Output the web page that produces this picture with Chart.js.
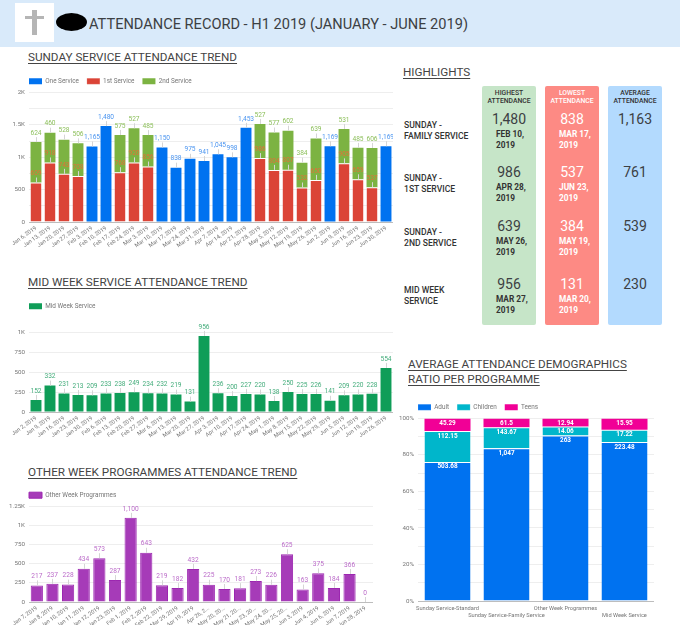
<!DOCTYPE html>
<html>
<head>
<meta charset="utf-8">
<script src="https://cdn.jsdelivr.net/npm/chart.js@4"></script>
<style>
html, body { margin: 0; padding: 0; background: #fff; overflow: hidden; }
body { width: 680px; height: 625px; position: relative; font-family: Roboto, sans-serif; color: #424242; }
canvas { position: absolute; }
.band { position: absolute; left: 0; top: 0; width: 680px; height: 47px; background: #d9eafa; }
.logo { position: absolute; left: 15px; top: 3px; width: 39px; height: 39px; background: #fff; }
.logo i { position: absolute; background: #b5b5b5; }
.blot { position: absolute; left: 56px; top: 13px; width: 31px; height: 18px; border-radius: 50%; background: #000; }
.head { position: absolute; left: 89px; top: 14px; font-size: 14.6px; line-height: 20px; white-space: nowrap; color: #3c4043; }
.ttl { position: absolute; font-size: 11.7px; line-height: 15px; text-decoration: underline; text-underline-offset: 2px; white-space: nowrap; color: #444; }
.col { position: absolute; top: 86px; width: 54px; height: 239px; border-radius: 2px; }
.t { position: absolute; white-space: nowrap; }
.colhead { font-size: 6.8px; font-weight: 500; line-height: 8px; text-align: center; width: 54px; }
.big { font-size: 14px; text-align: center; width: 54px; line-height: 18px; }
.when { font-size: 8.3px; font-weight: 700; line-height: 11px; }
.rowname { left: 404px; font-size: 8.6px; font-weight: 500; line-height: 11px; color: #333; }
</style>
</head>
<body>
<div class="band"></div>
<div class="logo"><i style="left:17px;top:7px;width:5px;height:25px"></i><i style="left:10px;top:13px;width:19px;height:3px"></i></div>
<div class="blot"></div>
<div class="head">ATTENDANCE RECORD - H1 2019 (JANUARY - JUNE 2019)</div>

<div class="ttl" style="left:28px;top:50px">SUNDAY SERVICE ATTENDANCE TREND</div>
<div class="ttl" style="left:28px;top:275px">MID WEEK SERVICE ATTENDANCE TREND</div>
<div class="ttl" style="left:28px;top:465px">OTHER WEEK PROGRAMMES ATTENDANCE TREND</div>
<div class="ttl" style="left:403px;top:65px">HIGHLIGHTS</div>
<div class="ttl" style="left:408px;top:357px">AVERAGE ATTENDANCE DEMOGRAPHICS</div>
<div class="ttl" style="left:408px;top:372px">RATIO PER PROGRAMME</div>

<div id="highlights"></div>

<canvas id="sundayChart" style="left:0;top:68px" width="393" height="202"></canvas>
<canvas id="midChart" style="left:0;top:293px" width="393" height="167"></canvas>
<canvas id="otherChart" style="left:0;top:482px" width="373" height="143"></canvas>
<canvas id="demoChart" style="left:390px;top:394px" width="264" height="231"></canvas>

<script>
const sundayDates = ["Jan 6, 2019","Jan 13, 2019","Jan 20, 2019","Jan 27, 2019","Feb 3, 2019","Feb 10, 2019","Feb 17, 2019","Feb 24, 2019","Mar 3, 2019","Mar 10, 2019","Mar 17, 2019","Mar 24, 2019","Mar 31, 2019","Apr 7, 2019","Apr 14, 2019","Apr 21, 2019","Apr 28, 2019","May 5, 2019","May 12, 2019","May 19, 2019","May 26, 2019","Jun 2, 2019","Jun 9, 2019","Jun 16, 2019","Jun 23, 2019","Jun 30, 2019"];
const oneService = [null,null,null,null,1165,1480,null,null,null,1150,838,975,941,1045,998,1453,null,null,null,null,null,1169,null,null,null,1169];
const firstService = [609,918,743,708,null,null,768,920,856,null,null,null,null,null,null,null,986,804,807,532,650,null,905,659,537,null];
const secondService = [624,460,528,506,null,null,575,527,485,null,null,null,null,null,null,null,527,577,602,384,639,null,531,485,606,null];

const midDates = ["Jan 2, 2019","Jan 9, 2019","Jan 16, 2019","Jan 23, 2019","Jan 30, 2019","Feb 6, 2019","Feb 13, 2019","Feb 20, 2019","Feb 27, 2019","Mar 6, 2019","Mar 13, 2019","Mar 20, 2019","Mar 27, 2019","Apr 3, 2019","Apr 10, 2019","Apr 17, 2019","Apr 24, 2019","May 1, 2019","May 8, 2019","May 15, 2019","May 22, 2019","May 29, 2019","Jun 5, 2019","Jun 12, 2019","Jun 19, 2019","Jun 26, 2019"];
const midWeek = [152,332,231,213,209,233,238,249,234,232,219,131,956,236,200,227,220,138,250,225,226,141,209,220,228,554];

const otherDates = ["Jan 7, 2019","Jan 8, 2019","Jan 10, 2019","Jan 11, 2019","Jan 12, 2019","Jan 23, 2019","Feb 1, 2019","Feb 2, 2019","Feb 22, 2019","Mar 29, 2019","Apr 19, 2019","Apr 26, 2...","May 20, 20...","May 21, 20...","May 23, 20...","May 24, 20...","May 25, 20...","Jun 3, 2019","Jun 4, 2019","Jun 6, 2019","Jun 7, 2019","Jun 28, 2019"];
const otherWeek = [217,237,228,434,573,287,1100,643,219,182,432,225,170,181,273,226,625,163,375,184,366,0];

const programmes = ["Sunday Service-Standard","Sunday Service-Family Service","Other Week Programmes","Mid Week Service"];
const adult = [503.68,1047,263,223.48];
const children = [112.15,143.67,14.06,17.22];
const teens = [45.29,61.5,12.94,15.95];

const rowNames = [["SUNDAY -","FAMILY SERVICE"],["SUNDAY -","1ST SERVICE"],["SUNDAY -","2ND SERVICE"],["MID WEEK","SERVICE"]];
const highest = ["1,480","986","639","956"];
const highestDates = [["FEB 10,","2019"],["APR 28,","2019"],["MAY 26,","2019"],["MAR 27,","2019"]];
const lowest = ["838","537","384","131"];
const lowestDates = [["MAR 17,","2019"],["JUN 23,","2019"],["MAY 19,","2019"],["MAR 20,","2019"]];
const average = ["1,163","761","539","230"];

// highlights panel
const rowY = [119, 172, 226, 284];
let html = '';
[[482,'#c6e5c8'],[545,'#fd8a84'],[608,'#b3dafe']].forEach(c => {
  html += `<div class="col" style="left:${c[0]}px;background:${c[1]}"></div>`;
});
[[482,'HIGHEST','#333'],[545,'LOWEST','#fff'],[608,'AVERAGE','#333']].forEach(c => {
  html += `<div class="t colhead" style="left:${c[0]}px;top:89px;color:${c[2]}">${c[1]}<br>ATTENDANCE</div>`;
});
rowY.forEach((y, i) => {
  html += `<div class="t rowname" style="top:${y + 0.5}px">${rowNames[i].join('<br>')}</div>`;
  html += `<div class="t big" style="left:482px;top:${y - 9}px;color:#3c4043">${highest[i]}</div>`;
  html += `<div class="t big" style="left:545px;top:${y - 9}px;color:#fff">${lowest[i]}</div>`;
  html += `<div class="t big" style="left:608px;top:${y - 9}px;color:#3c4043">${average[i]}</div>`;
  html += `<div class="t when" style="left:496px;top:${y + 10}px;color:#333">${highestDates[i].join('<br>')}</div>`;
  html += `<div class="t when" style="left:559px;top:${y + 10}px;color:#fff">${lowestDates[i].join('<br>')}</div>`;
});
document.getElementById('highlights').innerHTML = html;

const FONT = 'Roboto';
const fmt = v => Number(v).toLocaleString('en-US');
const kfmt = v => v >= 1000 ? (v / 1000) + 'K' : String(v);

// value labels with the little leader line above each bar
const barLabels = {
  id: 'barLabels',
  afterDatasetsDraw(chart) {
    const ctx = chart.ctx;
    ctx.save();
    ctx.font = '6.6px ' + FONT;
    ctx.textAlign = 'center';
    ctx.textBaseline = 'middle';
    chart.data.datasets.forEach((ds, d) => {
      chart.getDatasetMeta(d).data.forEach((bar, i) => {
        const v = ds.data[i];
        if (v === null) return;
        ctx.strokeStyle = '#d5d5d5';
        ctx.lineWidth = 1;
        ctx.beginPath();
        ctx.moveTo(Math.round(bar.x) + 0.5, bar.y);
        ctx.lineTo(Math.round(bar.x) + 0.5, bar.y - 5);
        ctx.stroke();
        ctx.fillStyle = ds.labelColor;
        ctx.fillText(fmt(v), bar.x, bar.y - 9);
      });
    });
    ctx.restore();
  }
};

// white labels at the top of each segment
const insideLabels = {
  id: 'insideLabels',
  afterDatasetsDraw(chart) {
    const ctx = chart.ctx;
    ctx.save();
    ctx.font = '700 6.4px ' + FONT;
    ctx.fillStyle = '#fff';
    ctx.textAlign = 'center';
    ctx.textBaseline = 'middle';
    chart.data.datasets.forEach((ds, d) => {
      chart.getDatasetMeta(d).data.forEach((bar, i) => {
        ctx.fillText(fmt(ds.raw[i]), bar.x, bar.y + 5);
      });
    });
    ctx.restore();
  }
};

// room between the legend and the plot, and legend flush with the plot edge
const legendGap = {
  id: 'legendGap',
  beforeInit(chart) {
    const fit = chart.legend.fit;
    chart.legend.fit = function () {
      fit.call(this);
      this.height += chart.options.legendExtra || 0;
    };
  },
  afterLayout(chart) {
    const l = chart.legend;
    l.left -= 8;
    l.right -= 8;
    l.top += 2;
    l.bottom += 2;
  }
};

function barOptions(yLeft, xHeight, maxY, step, yLabel, extra) {
  return {
    responsive: false,
    animation: false,
    legendExtra: extra,
    layout: { padding: 0 },
    plugins: {
      tooltip: { enabled: false },
      legend: {
        position: 'top',
        align: 'start',
        fullSize: false,
        labels: { boxWidth: 13, boxHeight: 6, padding: 8, color: '#757575', font: { family: FONT, size: 6.4 } }
      }
    },
    scales: {
      x: {
        stacked: true,
        afterFit: s => { s.height = xHeight; },
        grid: { display: false, drawTicks: false },
        border: { color: '#bdbdbd' },
        ticks: { autoSkip: false, minRotation: 35, maxRotation: 35, padding: 3, color: '#757575', font: { family: FONT, size: 5.6 } }
      },
      y: {
        stacked: true,
        min: 0,
        max: maxY,
        afterFit: s => { s.width = yLeft; },
        grid: { color: '#eeeeee', drawTicks: false },
        border: { display: false },
        ticks: { stepSize: step, autoSkip: false, padding: 4, color: '#757575', font: { family: FONT, size: 6.2 }, callback: yLabel }
      }
    }
  };
}

const barSize = { barPercentage: 0.78, categoryPercentage: 1 };
const seam = { borderColor: 'rgba(255,255,255,0.55)', borderWidth: { top: 1 }, borderSkipped: false };

new Chart(document.getElementById('sundayChart'), {
  type: 'bar',
  data: {
    labels: sundayDates,
    datasets: [
      { label: 'One Service', data: oneService, backgroundColor: '#0072f0', labelColor: '#4b95f0', ...barSize },
      { label: '1st Service', data: firstService, backgroundColor: '#db4437', labelColor: '#e2703a', ...seam, ...barSize },
      { label: '2nd Service', data: secondService, backgroundColor: '#7cb342', labelColor: '#8cbf5a', ...barSize }
    ]
  },
  options: barOptions(29, 48, 2000, 250, v => v % 500 ? '' : kfmt(v), 0),
  plugins: [barLabels, legendGap]
});

new Chart(document.getElementById('midChart'), {
  type: 'bar',
  data: {
    labels: midDates,
    datasets: [{ label: 'Mid Week Service', data: midWeek, backgroundColor: '#0f9d58', labelColor: '#45ad7c', ...barSize }]
  },
  options: barOptions(29, 48, 1000, 250, kfmt, 15),
  plugins: [barLabels, legendGap]
});

new Chart(document.getElementById('otherChart'), {
  type: 'bar',
  data: {
    labels: otherDates,
    datasets: [{ label: 'Other Week Programmes', data: otherWeek, backgroundColor: '#a63bb8', borderColor: '#9c27b0', borderWidth: 1, labelColor: '#bb6cc9', ...barSize }]
  },
  options: barOptions(29, 23, 1250, 250, kfmt, 0),
  plugins: [barLabels, legendGap]
});

// shares of each programme total, the bars are drawn as 100% stacks
const totals = adult.map((v, i) => v + children[i] + teens[i]);
const share = arr => arr.map((v, i) => v / totals[i] * 100);
const demoOptions = barOptions(28, 24, 100, 10, v => v % 20 ? '' : v + '%', 0);
demoOptions.scales.x.ticks = {
  autoSkip: false, minRotation: 0, maxRotation: 0, padding: 4, color: '#757575',
  font: { family: FONT, size: 5.7 },
  callback(v, i) { return i % 2 ? ['', this.getLabelForValue(v)] : this.getLabelForValue(v); }
};

new Chart(document.getElementById('demoChart'), {
  type: 'bar',
  data: {
    labels: programmes,
    datasets: [
      { label: 'Adult', data: share(adult), raw: adult, backgroundColor: '#0072f0', ...seam, ...barSize },
      { label: 'Children', data: share(children), raw: children, backgroundColor: '#00b6cb', ...seam, ...barSize },
      { label: 'Teens', data: share(teens), raw: teens, backgroundColor: '#f10096', ...barSize }
    ]
  },
  options: demoOptions,
  plugins: [insideLabels, legendGap]
});
</script>
</body>
</html>
